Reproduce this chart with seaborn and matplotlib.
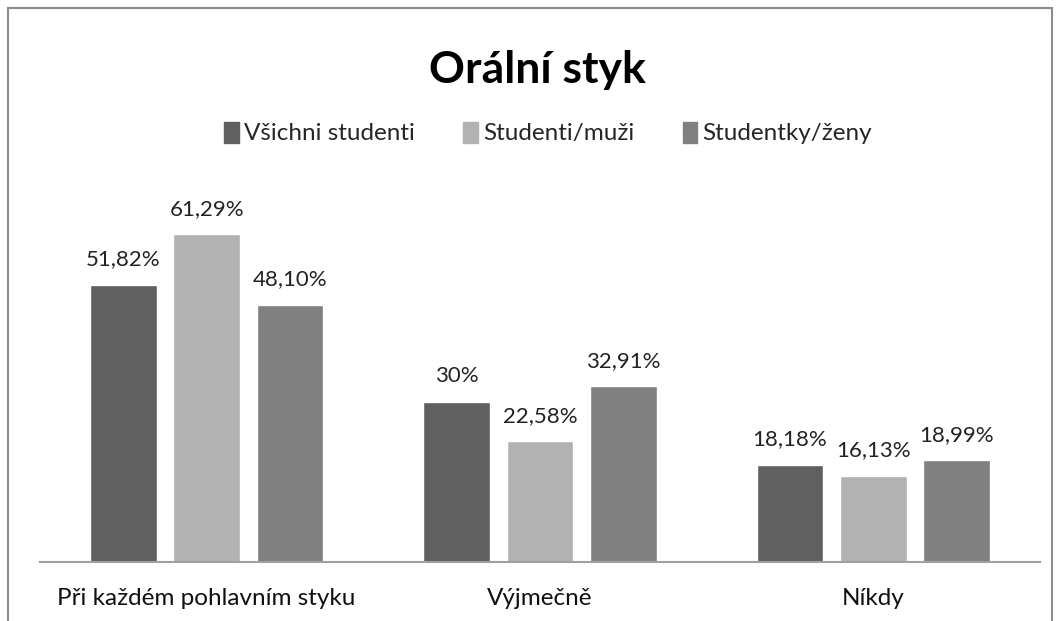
import matplotlib
matplotlib.use("Agg")
import matplotlib.pyplot as plt
import seaborn as sns
import pandas as pd
from matplotlib.patches import Rectangle

categories = ["Při každém pohlavním styku", "Výjmečně", "Níkdy"]
series = ["Všichni studenti", "Studenti/muži", "Studentky/ženy"]
vsichni = [51.82, 30.0, 18.18]
muzi = [61.29, 22.58, 16.13]
zeny = [48.10, 32.91, 18.99]
labels_vsichni = ["51,82%", "30%", "18,18%"]
labels_muzi = ["61,29%", "22,58%", "16,13%"]
labels_zeny = ["48,10%", "32,91%", "18,99%"]
colors = ["#606060", "#b2b2b2", "#808080"]

rows = []
for s, vals in zip(series, [vsichni, muzi, zeny]):
    for c, v in zip(categories, vals):
        rows.append({"kategorie": c, "skupina": s, "hodnota": v})
df = pd.DataFrame(rows)

sns.set_theme(style="white")
plt.rcParams["font.family"] = ["Lato", "DejaVu Sans"]

fig = plt.figure(figsize=(10.6, 6.21), dpi=100)
ax = fig.add_axes([40 / 1060, 1 - 562 / 621, 1000 / 1060, 374.5 / 621])

sns.barplot(data=df, x="kategorie", y="hodnota", hue="skupina",
            palette=colors, width=0.75, gap=0.2, saturation=1,
            ax=ax, legend=False)

for container, labs in zip(ax.containers, [labels_vsichni, labels_muzi, labels_zeny]):
    ax.bar_label(container, labels=labs, padding=11, fontsize=16, color="#222222")

ax.set_ylim(0, 70)
ax.set_xlim(-0.5, 2.5)
ax.set_xlabel("")
ax.set_ylabel("")
ax.set_yticks([])
ax.tick_params(axis="x", length=0, pad=19, labelsize=17.5, colors="#111111")
for side in ["top", "right", "left"]:
    ax.spines[side].set_visible(False)
ax.spines["bottom"].set_color("#a0a0a0")
ax.spines["bottom"].set_linewidth(1.5)

fig.text(0.507, 1 - 70 / 621, "Orální styk", ha="center", va="center",
         fontsize=32, fontweight="bold", color="#000000")

handles = [Rectangle((0, 0), 1, 1, color=c) for c in colors]
fig.legend(handles, series, loc="center", bbox_to_anchor=(0.517, 1 - 133 / 621),
           ncol=3, frameon=False, fontsize=17.5, handlelength=0.6, handleheight=0.95,
           handletextpad=0.2, columnspacing=2.0)

fig.patches.append(Rectangle((8 / 1060, -0.1), 1044 / 1060, 1.1 - 8 / 621,
                             transform=fig.transFigure, fill=False,
                             edgecolor="#8c8c8c", linewidth=1.5))

fig.savefig("out.png", dpi=100, facecolor="white")
